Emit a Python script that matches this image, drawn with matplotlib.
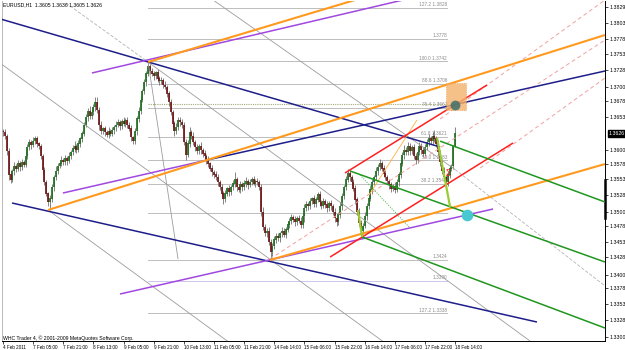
import matplotlib.pyplot as plt
import numpy as np
from matplotlib.patches import Rectangle
from matplotlib.transforms import blended_transform_factory

# EURUSD H1 bars, prices in pips above 1.3000
first_open = 630
closes = [628, 622, 598, 560, 552, 566, 574, 570, 578, 572, 580, 576, 590, 604, 612, 608,
          614, 618, 610, 606, 590, 568, 548, 530, 516, 522, 540, 556, 566, 574, 578, 584,
          580, 586, 582, 590, 596, 602, 606, 600, 610, 618, 626, 640, 652, 662, 654, 660,
          668, 676, 664, 640, 630, 634, 628, 624, 630, 626, 632, 636, 640, 644, 638, 646,
          642, 648, 640, 634, 620, 614, 630, 650, 662, 680, 694, 708, 722, 734, 726, 722,
          718, 724, 714, 710, 712, 704, 700, 690, 676, 660, 642, 630, 636, 648, 644, 640,
          612, 592, 610, 628, 622, 612, 604, 598, 606, 600, 594, 590, 584, 578, 570, 564,
          560, 556, 548, 540, 530, 522, 530, 538, 532, 540, 546, 552, 540, 536, 544, 540,
          546, 550, 544, 548, 552, 546, 550, 548, 540, 500, 476, 466, 470, 452, 436, 446,
          456, 462, 458, 466, 470, 464, 472, 480, 486, 492, 488, 484, 490, 486, 480, 494,
          506, 512, 510, 518, 522, 514, 520, 528, 516, 510, 518, 512, 506, 514, 510, 500,
          490, 484, 496, 510, 526, 540, 552, 562, 556, 548, 538, 520, 500, 482, 470, 478,
          494, 510, 522, 536, 548, 556, 566, 572, 578, 570, 562, 556, 550, 544, 538, 542,
          536, 548, 560, 578, 592, 600, 596, 606, 598, 604, 590, 584, 596, 606, 600, 594,
          604, 612, 618, 614, 622, 618, 610, 596, 580, 566, 556, 548, 560, 570, 574, 605,
          626]
upper_wicks = [4, 6, 3, 5, 8, 4, 6, 3, 5, 4, 6, 3, 8, 5, 6, 4,
               6, 4, 5, 3, 4, 3, 5, 4, 3, 6, 5, 4, 8, 5, 4, 6,
               3, 5, 4, 6, 3, 5, 8, 4, 6, 3, 5, 4, 6, 5, 8, 6,
               5, 8, 8, 4, 6, 3, 5, 4, 6, 3, 5, 4, 6, 5, 4, 3,
               6, 3, 5, 4, 6, 3, 5, 4, 6, 5, 4, 6, 5, 7, 4, 6,
               5, 3, 6, 4, 5, 3, 6, 4, 5, 6, 4, 5, 7, 4, 5, 6,
               4, 6, 5, 8, 4, 6, 3, 5, 4, 6, 3, 5, 4, 6, 3, 5,
               4, 6, 5, 3, 5, 4, 6, 3, 5, 4, 6, 13, 4, 5, 6, 4,
               5, 6, 3, 5, 4, 6, 3, 5, 4, 6, 8, 5, 4, 6, 5, 4,
               6, 4, 5, 3, 6, 4, 5, 6, 4, 5, 3, 6, 4, 5, 6, 4,
               8, 6, 4, 5, 3, 6, 4, 5, 6, 4, 5, 3, 6, 4, 5, 4,
               6, 5, 4, 6, 5, 4, 6, 8, 5, 4, 6, 5, 4, 6, 5, 4,
               6, 5, 4, 6, 5, 4, 6, 5, 8, 4, 6, 5, 4, 3, 5, 4,
               6, 5, 4, 6, 5, 8, 4, 6, 5, 4, 6, 5, 4, 6, 5, 4,
               6, 5, 8, 4, 6, 10, 5, 6, 4, 5, 6, 4, 5, 6, 4, 3,
               10]
lower_wicks = [5, 4, 6, 8, 5, 4, 6, 5, 4, 6, 5, 4, 3, 5, 4, 6,
               4, 5, 6, 4, 5, 6, 5, 4, 6, 12, 5, 6, 4, 5, 3, 4,
               5, 4, 6, 3, 5, 4, 6, 5, 4, 6, 5, 4, 3, 5, 4, 5,
               4, 6, 5, 8, 4, 5, 6, 4, 5, 3, 4, 6, 5, 4, 6, 5,
               4, 6, 5, 3, 6, 5, 4, 6, 5, 4, 3, 5, 6, 4, 5, 4,
               6, 4, 5, 6, 4, 5, 3, 6, 5, 4, 6, 8, 5, 4, 6, 5,
               5, 8, 4, 6, 5, 4, 6, 5, 4, 6, 5, 4, 6, 5, 4, 6,
               5, 4, 6, 5, 4, 8, 5, 4, 6, 5, 4, 5, 6, 4, 5, 6,
               4, 5, 6, 4, 5, 3, 6, 4, 5, 6, 5, 4, 6, 5, 12, 6,
               5, 6, 4, 5, 6, 4, 5, 4, 6, 5, 4, 6, 5, 4, 6, 5,
               10, 4, 6, 5, 4, 6, 5, 4, 6, 5, 4, 6, 5, 4, 6, 5,
               5, 6, 4, 5, 6, 4, 5, 4, 6, 5, 4, 6, 5, 4, 10, 5,
               4, 6, 5, 4, 6, 5, 4, 6, 5, 4, 6, 5, 4, 6, 5, 4,
               5, 4, 6, 5, 4, 6, 5, 4, 6, 5, 4, 6, 5, 4, 6, 5,
               4, 5, 6, 4, 5, 6, 5, 4, 6, 5, 4, 8, 6, 5, 4, 5,
               0]

date_labels = ["4 Feb 2011", "7 Feb 05:00", "7 Feb 21:00", "8 Feb 13:00", "9 Feb 05:00",
               "9 Feb 21:00", "10 Feb 13:00", "11 Feb 05:00", "11 Feb 21:00", "14 Feb 14:00",
               "15 Feb 06:00", "15 Feb 22:00", "16 Feb 14:00", "17 Feb 06:00", "17 Feb 22:00",
               "18 Feb 14:00"]
date_bars = list(range(0, 241, 16))
price_labels = ["1.3829", "1.3803", "1.3778", "1.3753", "1.3728", "1.3700", "1.3678", "1.3653",
                "1.3600", "1.3578", "1.3553", "1.3528", "1.3500", "1.3478", "1.3453", "1.3428",
                "1.3400", "1.3378", "1.3353", "1.3328", "1.3300"]
last_price = 1.3626
title = "EURUSD,H1  1.3605 1.3636 1.3605 1.3626"

# trendlines: (bar, price) anchor pairs
navy_lines = [[(-1.6, 1.3810), (232.0, 1.36046)],
              [(108.3, 1.35837), (319.5, 1.37264)],
              [(4.8, 1.35148), (283.4, 1.33240)]]
orange_lines = [[(23.9, 1.35036), (319.5, 1.37841)],
                [(77.0, 1.37408), (186.8, 1.38402)],
                [(141.7, 1.34234), (319.5, 1.35773)]]
orange_thin = [[(194.3, 1.35276), (219.7, 1.36479)]]
purple_lines = [[(47.2, 1.37232), (212.3, 1.38402)],
                [(31.8, 1.35308), (108.3, 1.35837)],
                [(62.1, 1.33689), (260.1, 1.35052)]]
red_lines = [[(181.5, 1.35629), (256.9, 1.37040)],
             [(173.6, 1.34282), (270.7, 1.36110)]]
green_lines = [[(232.0, 1.36140), (319.5, 1.35164)],
               [(184.2, 1.35661), (319.5, 1.34202)],
               [(190.6, 1.34603), (319.5, 1.33144)]]
green_dotted = [[(189.5, 1.35597), (216.0, 1.34747)]]
lime_lines = [[(230.4, 1.36190), (237.3, 1.35084)],
              [(188.4, 1.35036), (190.6, 1.34603)]]
gray_lines = [[(23.9, 1.35036), (120.5, 1.32904)],
              [(-1.6, 1.37392), (202.8, 1.32904)],
              [(77.0, 1.37408), (279.7, 1.32936)],
              [(111.5, 1.38402), (239.9, 1.35686)],
              [(77.0, 1.37408), (92.9, 1.34250)]]
gray_dashed = [[(33.4, 1.38354), (77.0, 1.37408)],
               [(239.9, 1.35686), (319.5, 1.33818)]]
salmon_dashed = [[(232.0, 1.36495), (319.5, 1.38402)],
                 [(141.7, 1.34250), (319.5, 1.37761)],
                 [(253.2, 1.35709), (319.5, 1.37152)]]

fib_start, fib_end = 77.0, 235.7
fib_levels = [1.3828, 1.3778, 1.3742, 1.3706, 1.3667, 1.3621, 1.3583, 1.3545, 1.3499,
              1.3424, 1.3390, 1.3338]
fib_labels = ["127.2 1.3828", "1.3778", "100.0 1.3742", "88.6 1.3706", "76.4 1.3667",
              "61.8 1.3621", "50.0 1.3583", "38.2 1.3545", "", "1.3424", "1.3390",
              "127.2 1.3338"]
level_dotted = 1.3673

box = (235.1, 1.36639, 10.7, 0.00433)  # bar, price, width in bars, height in price
dark_dot = (239.9, 1.36726)
cyan_dot = (246.3, 1.34956)
red_marks = [(211.8, 1.36318, r'$\Pi$'), (230.4, 1.36300, r'$\Pi$'), (236.2, 1.35645, r'$\Sigma$')]

plt.rcParams['font.family'] = ['Liberation Sans', 'DejaVu Sans']
fig = plt.figure(figsize=(6.25, 3.5), dpi=100)
ax = fig.add_axes([2 / 625, 9 / 350, 603 / 625, 340 / 350])
ax.set_xlim(-0.53, 319.5)
ax.set_ylim(1.32936, 1.38386)

# candles
n = len(closes)
idx = np.arange(n)
c = 1.3 + np.array(closes) / 10000
o = np.r_[1.3 + first_open / 10000, c[:-1]]
hi = np.maximum(o, c) + np.array(upper_wicks) / 10000
lo = np.minimum(o, c) - np.array(lower_wicks) / 10000
up = c >= o
ax.vlines(idx, lo, hi, color='#707070', lw=0.6, zorder=2)
ax.vlines(idx[up], o[up], c[up] + 0.00005, color='#1f6e1f', lw=1.25, zorder=2)
ax.vlines(idx[~up], c[~up], o[~up] + 0.00005, color='#701414', lw=1.25, zorder=2)

# fibonacci levels
for lev, lab in zip(fib_levels, fib_labels):
    col = '#cfc4ec' if lab == "1.3390" else '#bdbdbd'
    ax.plot([fib_start, fib_end], [lev, lev], color=col, lw=0.7, zorder=1)
    if lab:
        ax.text(fib_end, lev + 0.00012, lab, fontsize=3.4, color='#8a8a8a',
                ha='right', va='bottom', zorder=1)
ax.plot([fib_start, fib_end], [level_dotted, level_dotted], color='#a4aa7a', lw=0.8,
        ls=(0, (1, 1)), zorder=1)


def draw(lines, **kw):
    for (x0, y0), (x1, y1) in lines:
        ax.plot([x0, x1], [y0, y1], solid_capstyle='butt', **kw)


draw(gray_lines, color='#9c9c9c', lw=0.6, zorder=3)
draw(gray_dashed, color='#b4b4b4', lw=0.6, ls=(0, (4, 2)), zorder=3)
draw(salmon_dashed, color='#f0a0a0', lw=0.7, ls=(0, (4, 3)), zorder=3)
draw(navy_lines, color='#1e1e8a', lw=1.1, zorder=4)
draw(purple_lines, color='#a048e0', lw=1.1, zorder=4)
draw(orange_lines, color='#ff9a1e', lw=1.5, zorder=4)
draw(orange_thin, color='#ffb040', lw=0.6, zorder=4)
draw(red_lines, color='#ff2020', lw=1.1, zorder=4)
draw(green_lines, color='#1f961f', lw=1.1, zorder=4)
draw(green_dotted, color='#40b040', lw=0.7, ls=(0, (1, 1.5)), zorder=4)
draw(lime_lines, color='#9acd32', lw=1.6, zorder=4)

bx, by, bw, bh = box
ax.add_patch(Rectangle((bx, by), bw, bh, facecolor='#f4b26a', alpha=0.8,
                       edgecolor='#e0903a', lw=0.6, ls=':', zorder=5))
ax.scatter([dark_dot[0]], [dark_dot[1]], s=50, color='#3f6f6a', alpha=0.85, zorder=6, lw=0)
ax.scatter([cyan_dot[0]], [cyan_dot[1]], s=70, color='#48c8d0', zorder=6, lw=0)
for mx, my, g in red_marks:
    ax.scatter([mx], [my], marker=g, s=22, color='#ff2020', lw=0, zorder=6)

# axes styling
ax.spines['top'].set_visible(False)
ax.spines['left'].set_color('#b0b0b0')
ax.spines['left'].set_linewidth(0.6)
ax.spines['right'].set_linewidth(0.7)
ax.spines['bottom'].set_linewidth(0.7)
ax.yaxis.tick_right()
ax.set_yticks([float(p) for p in price_labels])
ax.set_yticklabels(price_labels, fontsize=3.8)
ax.set_xticks(date_bars)
ax.set_xticklabels(date_labels, fontsize=3.3)
ax.tick_params(axis='both', length=2, width=0.5, pad=1, colors='black')
for lab in ax.get_xticklabels():
    lab.set_ha('left')

tr = blended_transform_factory(ax.transAxes, ax.transData)
ax.text(1.006, last_price, f"{last_price:.4f}", transform=tr, fontsize=3.8, color='white',
        va='center', ha='left', clip_on=False,
        bbox=dict(boxstyle='square,pad=0.15', fc='black', ec='black'))
ax.plot([1.0, 1.0], [1.3491, 1.3552], transform=tr, color='black', lw=1.8, clip_on=False)

fig.text(3 / 625, 1 - 5 / 350, title, fontsize=3.7, va='center', ha='left')
fig.text(3 / 625, 1 - 338 / 350, "WHC Trader 4, \u00a9 2001-2009 MetaQuotes Software Corp.",
         fontsize=3.7, va='center', ha='left')

fig.savefig('out.png', dpi=100)
